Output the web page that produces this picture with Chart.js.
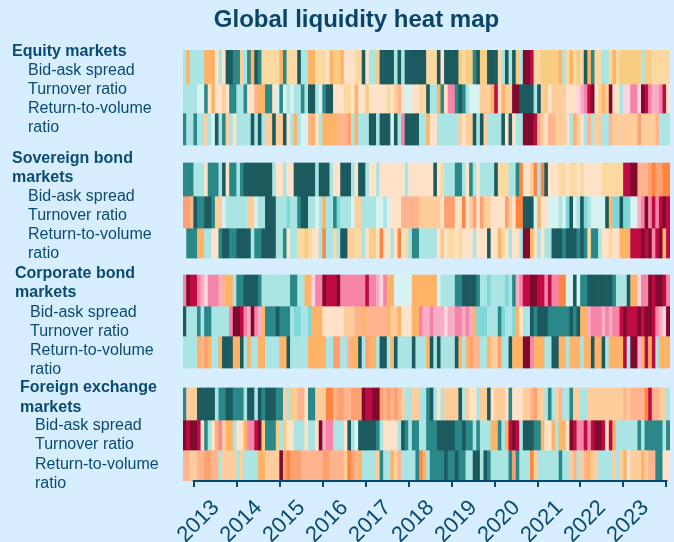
<!DOCTYPE html>
<html><head><meta charset="utf-8">
<style>html,body{margin:0;padding:0;background:#d6eeff;overflow:hidden}canvas{display:block}</style>
<script src="https://cdn.jsdelivr.net/npm/chart.js@4"></script>
</head><body><canvas id="c" width="674" height="542"></canvas>
<script>
const titleText = 'Global liquidity heat map';
const yearLabels = ['2013','2014','2015','2016','2017','2018','2019','2020','2021','2022','2023'];
// first cell is Oct 2012, last is Jan 2024
const months = [];
for (let y = 2012; y <= 2024; y++) for (let m = 1; m <= 12; m++) {
  if ((y === 2012 && m < 10) || (y === 2024 && m > 1)) continue;
  months.push(y + '-' + String(m).padStart(2, '0'));
}
const palette = ['#1b5a5e','#2a8888','#7fd8d8','#aae5e4','#d6f2f1','#ffe2c8','#fbd9a0','#f8cc82','#ffb366','#ffcd9c','#ffb48e','#ffa070','#ff8540','#fdd5e2','#f9adc4','#f584a6','#bf0a42','#800a2e'];

const eqBidAsk = [3,8,3,3,3,3,8,8,8,5,3,5,0,0,1,1,9,3,1,8,0,1,6,6,6,6,6,8,1,6,6,6,0,3,3,8,8,6,6,6,5,8,7,7,8,5,5,5,6,6,0,5,3,3,7,0,0,0,0,3,0,3,0,0,0,0,0,0,6,6,6,0,5,0,0,0,0,7,6,7,7,1,0,7,7,0,0,0,6,3,0,3,0,7,3,17,17,16,6,6,7,7,7,7,7,8,3,6,8,6,7,6,0,8,1,6,6,3,3,6,8,6,7,7,7,7,7,7,3,7,7,6,6,6,6,6];
const eqTurnover = [3,3,3,3,4,4,1,5,8,5,5,9,5,1,1,3,3,1,5,5,10,8,8,1,1,5,4,1,4,3,4,3,3,1,3,0,0,3,4,1,0,0,5,5,5,6,6,5,8,5,5,7,5,5,5,5,5,6,5,9,10,5,4,4,5,5,6,6,0,3,3,8,1,5,15,15,1,0,1,3,4,4,4,9,9,9,8,16,5,8,9,9,17,17,0,0,0,0,3,0,9,7,5,9,9,9,9,5,5,5,13,14,15,16,17,5,9,8,9,17,5,5,3,13,13,15,15,13,17,16,15,14,14,15,16,5];
const eqReturn = [1,3,3,1,3,3,9,3,4,0,3,1,9,3,5,3,3,3,3,0,3,0,3,9,9,0,9,9,0,5,3,8,3,4,4,10,8,5,3,8,8,8,8,10,10,10,11,3,8,3,3,3,0,0,3,0,0,0,4,0,3,15,0,0,0,0,3,3,8,5,5,3,3,3,3,3,3,9,5,9,9,0,3,0,9,3,3,3,3,0,5,0,5,3,3,17,17,17,16,10,9,5,10,10,9,9,9,5,3,8,9,5,3,10,3,9,9,3,3,10,9,9,9,9,9,9,9,11,9,9,9,9,10,3,3,3];
const sovBidAsk = [1,1,1,3,3,3,5,1,1,1,3,0,5,1,1,3,1,0,0,0,0,0,0,0,0,3,5,5,3,5,5,0,0,0,0,0,0,3,0,0,0,3,5,5,0,0,0,3,5,0,0,3,5,5,3,5,5,5,5,5,5,5,3,5,5,5,5,5,5,5,0,5,6,3,3,3,1,1,3,5,1,3,5,3,3,3,3,0,6,6,6,3,3,1,12,5,5,9,12,3,12,0,5,5,5,6,6,5,6,6,5,6,5,5,5,5,5,6,6,6,6,6,6,16,16,17,17,10,10,10,11,12,11,11,12,12];
const sovTurnover = [11,11,10,0,1,1,0,0,1,9,9,4,3,3,3,3,3,3,9,9,4,3,3,0,0,0,3,3,3,2,3,3,1,0,0,3,3,4,3,8,3,3,1,2,3,3,3,4,9,9,3,3,3,3,4,4,3,4,5,5,5,10,10,10,10,10,9,9,9,9,9,9,5,11,11,11,5,5,12,5,9,11,5,11,9,9,5,5,5,5,11,9,5,12,12,0,0,0,4,8,5,5,4,4,4,3,4,2,0,4,3,0,2,3,4,4,4,4,0,8,2,2,0,2,2,4,4,14,15,17,15,16,15,16,17,16];
const sovReturn = [4,1,1,1,8,8,3,3,5,5,1,0,0,1,1,0,0,0,0,3,1,1,0,0,0,0,3,3,1,5,3,3,6,6,7,6,5,5,3,12,3,3,6,3,0,0,9,9,6,6,3,5,7,7,5,12,5,5,3,5,12,5,6,3,1,1,3,3,3,3,3,5,7,5,6,6,5,6,5,5,5,3,5,5,5,0,5,5,8,6,5,3,5,5,3,17,17,8,5,3,5,3,3,0,0,0,1,0,0,0,1,0,1,6,1,1,3,5,5,6,5,5,8,8,8,16,16,16,17,16,17,15,16,17,8,16];
const corpBidAsk = [15,17,16,16,15,14,13,15,15,15,14,10,8,8,3,1,1,0,0,0,0,1,3,3,3,3,3,3,3,3,1,1,3,3,8,8,13,15,15,17,16,16,16,17,15,15,15,15,15,15,15,16,15,15,14,13,15,8,8,4,4,4,4,4,8,8,8,8,8,8,8,4,3,3,3,3,1,1,0,0,0,0,1,3,3,2,3,3,3,3,2,3,1,14,15,16,16,17,17,16,16,15,16,15,15,12,12,4,4,0,4,1,1,0,0,0,0,0,0,0,1,3,3,3,0,8,8,13,15,15,17,16,17,17,16,15];
const corpTurnover = [0,3,3,3,1,3,1,1,3,3,3,3,3,15,17,17,16,15,14,17,15,14,8,1,1,1,0,1,1,1,3,2,2,3,3,2,8,8,8,5,5,5,5,5,5,9,9,9,10,10,8,10,10,10,10,10,10,8,9,9,8,5,5,5,8,8,15,14,14,15,14,14,14,13,14,14,15,15,14,15,14,8,2,2,2,3,3,3,1,2,3,3,2,8,5,3,3,0,1,0,0,0,1,1,1,1,1,1,0,1,0,8,8,14,15,15,15,14,15,14,15,15,16,17,16,16,16,17,16,17,17,16,15,14,13,17];
const corpReturn = [3,3,3,3,8,10,11,8,3,3,8,0,0,0,8,8,0,3,8,3,3,8,8,3,3,3,3,8,8,0,3,3,3,3,3,8,8,8,8,8,3,3,11,11,3,3,10,8,8,0,3,11,8,8,3,0,0,3,8,0,3,3,3,3,0,3,3,3,8,0,3,0,3,3,3,3,0,8,3,8,11,10,10,3,3,8,9,9,11,3,3,0,8,8,8,17,17,15,8,8,8,3,3,0,0,8,8,3,8,8,8,3,8,8,0,8,8,0,3,8,8,8,8,16,3,17,17,14,8,16,8,16,3,8,8,8];
const fxBidAsk = [1,9,9,9,0,0,0,0,0,3,1,1,0,0,1,1,1,3,0,0,3,0,1,0,0,0,1,1,9,3,7,9,10,10,5,1,1,9,9,9,12,12,10,11,11,10,10,11,11,11,17,16,16,17,17,11,10,11,10,11,10,9,3,3,9,9,3,3,1,0,3,5,3,9,9,9,9,0,3,9,5,5,3,9,9,0,5,9,9,9,5,1,5,5,5,9,9,10,11,9,9,3,1,3,9,10,3,3,1,9,9,3,3,9,9,9,9,9,9,9,9,9,9,10,9,10,10,10,10,12,16,10,10,9,9,3];
const fxTurnover = [17,16,17,17,16,5,1,3,5,8,15,9,8,8,3,5,5,8,15,15,16,17,7,1,1,1,7,3,7,5,5,3,3,3,5,3,3,5,17,14,15,15,3,3,3,5,0,3,4,0,0,0,0,0,1,3,5,5,5,5,3,0,1,3,1,1,3,3,1,1,1,0,0,0,0,0,1,1,0,1,1,3,1,3,3,3,8,8,1,3,8,16,17,16,3,0,0,0,1,1,8,5,5,8,3,8,8,5,17,16,15,15,16,15,16,17,17,16,5,16,8,3,3,3,3,3,3,1,3,1,1,1,1,1,3,1];
const fxReturn = [10,10,9,9,10,10,11,11,10,10,3,9,9,9,9,3,9,3,3,3,3,8,8,9,9,9,9,17,11,12,11,11,11,10,10,10,10,10,10,11,11,10,10,10,10,9,12,11,10,8,3,3,3,3,9,1,3,3,8,9,10,3,3,3,3,1,12,8,3,1,1,1,1,0,1,1,0,1,1,3,3,0,0,3,0,1,3,3,3,3,3,1,11,1,3,3,3,12,9,3,3,3,3,3,3,1,3,3,9,10,3,9,10,8,9,9,3,3,3,3,9,3,9,8,5,9,9,9,8,9,10,10,1,1,5,5];

const rows = [eqBidAsk, eqTurnover, eqReturn, sovBidAsk, sovTurnover, sovReturn, corpBidAsk, corpTurnover, corpReturn, fxBidAsk, fxTurnover, fxReturn];
// band edges on the plot's vertical scale
const bandEdges = [[0,34],[34,63],[63,95],[113,146],[146,178],[178,208],[225,256],[256,286],[286,318],[338,370],[370,400],[400,431]];

const labelColor = '#0b4a72';
const labelFont = '"Liberation Sans", Arial, sans-serif';
const rowLabels = [
  ['Equity markets',12,true,2],['Bid-ask spread',28,false,21],['Turnover ratio',28,false,40],['Return-to-volume',28,false,59],['ratio',28,false,78],
  ['Sovereign bond',12,true,109],['markets',12,true,128],['Bid-ask spread',28,false,147],['Turnover ratio',28,false,166],['Return-to-volume',28,false,185],['ratio',28,false,204],
  ['Corporate bond',15,true,224],['markets',15,true,243],['Bid-ask spread',30,false,263],['Turnover ratio',30,false,282],['Return-to-volume',30,false,301],['ratio',30,false,320],
  ['Foreign exchange',20,true,338],['markets',20,true,358],['Bid-ask spread',35,false,376],['Turnover ratio',35,false,395],['Return-to-volume',35,false,415],['ratio',35,false,434]
];

const sidePlugin = {
  id: 'side',
  afterDraw(chart) {
    const ctx = chart.ctx, y = chart.scales.y, t = chart.scales.time;
    ctx.save();
    ctx.strokeStyle = '#004a75'; ctx.lineWidth = 2;
    ctx.beginPath();
    ctx.moveTo(t.getPixelForValue(2013) - 1, t.top);
    ctx.lineTo(t.getPixelForValue(2024) + 1, t.top);
    ctx.stroke();
    ctx.fillStyle = labelColor; ctx.textBaseline = 'middle'; ctx.textAlign = 'left';
    for (const [text, x, bold, v] of rowLabels) {
      ctx.font = (bold ? 'bold ' : '') + '16px ' + labelFont;
      ctx.fillText(text, x, y.getPixelForValue(v));
    }
    ctx.restore();
  }
};

new Chart(document.getElementById('c'), {
  type: 'bar',
  data: {
    labels: months,
    datasets: rows.map((r, k) => ({
      data: r.map(() => bandEdges[k]),
      backgroundColor: r.map(v => palette[v]),
      borderWidth: 0,
      grouped: false,
      barPercentage: 1,
      categoryPercentage: 1,
      xAxisID: 'x', yAxisID: 'y'
    }))
  },
  plugins: [sidePlugin],
  options: {
    responsive: false, animation: false, devicePixelRatio: 1,
    layout: { padding: { left: 43, right: 4, top: 0, bottom: 0 } },
    plugins: {
      legend: { display: false }, tooltip: { enabled: false },
      title: { display: true, text: titleText, color: '#0a4468',
        font: { family: labelFont, size: 24, weight: 'bold' },
        padding: { top: 6, bottom: 15.2 } }
    },
    scales: {
      x: { type: 'category', display: false, offset: true },
      y: { type: 'linear', reverse: true, min: 0, max: 431, position: 'left',
        grid: { display: false }, border: { display: false },
        ticks: { display: false },
        afterFit: s => { s.width = 140; } },
      time: { type: 'linear', position: 'bottom', axis: 'x', min: 2012.75, max: 2024.0833, offset: false,
        grid: { offset: false, drawOnChartArea: false, drawTicks: true, tickLength: 6, color: '#004a75', lineWidth: 2 },
        border: { display: false },
        ticks: { stepSize: 1, includeBounds: false, autoSkip: false, minRotation: 45, maxRotation: 45,
          labelOffset: 22, padding: 8, color: labelColor,
          font: { family: labelFont, size: 22 },
          callback: v => yearLabels.includes(String(v)) ? String(v) : '' },
        afterFit: s => { s.height = 61; s.paddingLeft = 0; s.paddingRight = 0; } }
    }
  }
});
</script></body></html>
